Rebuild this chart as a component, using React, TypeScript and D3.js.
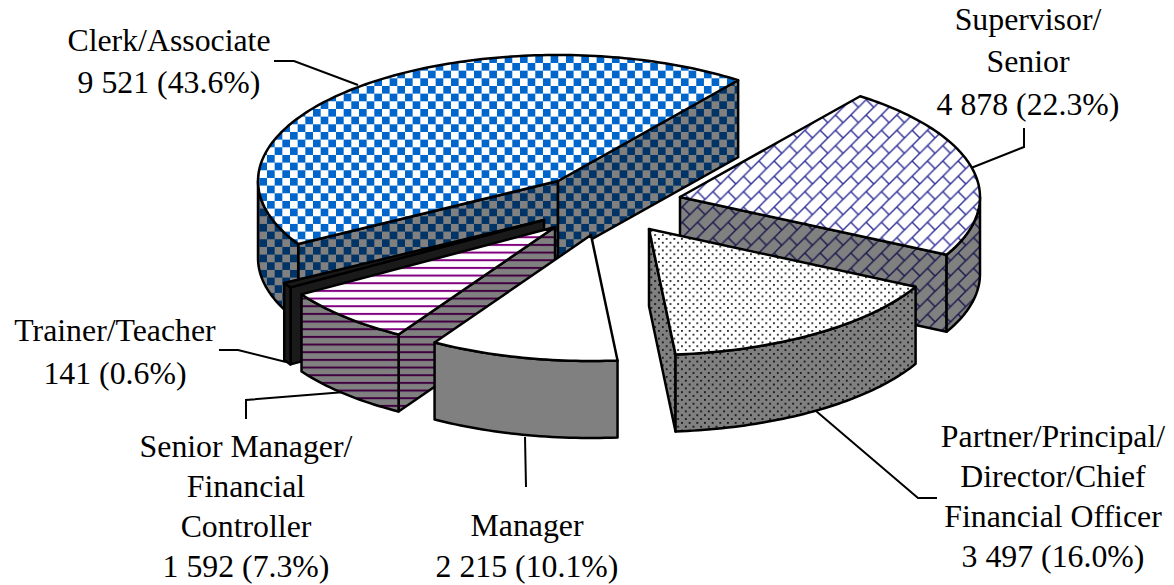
import React from "react";
import * as d3 from "d3";

// Headcount by job level
const categories = ["Supervisor/Senior", "Partner/Principal", "Manager", "Senior Manager", "Trainer/Teacher", "Clerk/Associate"];
const headcount = [4878, 3497, 2215, 1592, 141, 9521];

const WIDTH = 1174;
const HEIGHT = 585;
const RX = 300;
const RY = 126;
const DEPTH = 77;
const FIRST_ANGLE = (36.9 * Math.PI) / 180;
const CELL = 15.33;

// Exploded wedge tips, in category order
const tipX = [680, 649, 591, 555, 544, 558];
const tipY = [197, 229, 235, 227, 220, 181];

// Back-to-front painting sequence, indexes into categories
const paintOrder = [5, 4, 3, 2, 0, 1];

const topFill = ["url(#brickTop)", "url(#dotTop)", "#ffffff", "url(#lineTop)", "#1a1a1a", "url(#checkTop)"];
const wallFill = ["url(#brickWall)", "url(#dotWall)", "#808080", "url(#lineWall)", "#1a1a1a", "url(#checkWall)"];

const labelX = [1028, 1053, 527, 246, 115, 169];
const labelLines = [
  [["Supervisor/", 30], ["Senior", 72], ["4 878 (22.3%)", 115]],
  [["Partner/Principal/", 447], ["Director/Chief", 487], ["Financial Officer", 527], ["3 497 (16.0%)", 567]],
  [["Manager", 536], ["2 215 (10.1%)", 577]],
  [["Senior Manager/", 457], ["Financial", 497], ["Controller", 537], ["1 592 (7.3%)", 577]],
  [["Trainer/Teacher", 341], ["141 (0.6%)", 384]],
  [["Clerk/Associate", 51], ["9 521 (43.6%)", 93]],
] as [string, number][][];

const leaders: [number, number][][] = [
  [[971, 168], [1024, 147], [1024, 128]],
  [[816, 411], [918, 498], [937, 498]],
  [[525, 437], [526, 487]],
  [[246, 419], [246, 400], [345, 392]],
  [[219, 350], [238, 350], [286, 362]],
  [[274, 61], [294, 61], [358, 85]],
];

const arcs = d3
  .pie<number>()
  .sort(null)
  .startAngle(FIRST_ANGLE)
  .endAngle(FIRST_ANGLE + 2 * Math.PI)(headcount);

const outline = d3.line().curve(d3.curveLinear);

function rimPoint(i: number, theta: number, drop = 0): [number, number] {
  return [tipX[i] + RX * Math.sin(theta), tipY[i] - RY * Math.cos(theta) + drop];
}

function rimPoints(i: number, from: number, to: number, drop = 0) {
  const steps = Math.max(2, Math.ceil(Math.abs(to - from) / 0.02));
  const angle = d3.scaleLinear().domain([0, steps]).range([from, to]);
  return d3.range(steps + 1).map((k) => rimPoint(i, angle(k), drop));
}

function Wedge({ i }: { i: number }) {
  const { startAngle: s, endAngle: e } = arcs[i];
  const tip: [number, number] = [tipX[i], tipY[i]];
  const tipLow: [number, number] = [tipX[i], tipY[i] + DEPTH];
  const sideStroke = { stroke: "#000", strokeWidth: 2.5, strokeLinejoin: "round" as const };
  const sides: string[] = [];
  if (Math.sin(s) < 0) sides.push(outline([tip, rimPoint(i, s), rimPoint(i, s, DEPTH), tipLow])! + "Z");
  if (Math.sin(e) > 0) sides.push(outline([tip, rimPoint(i, e), rimPoint(i, e, DEPTH), tipLow])! + "Z");
  // Only the stretch of rim facing the viewer gets an outer wall
  const from = Math.max(s, Math.PI / 2);
  const to = Math.min(e, (3 * Math.PI) / 2);
  const outer =
    to > from
      ? outline([...rimPoints(i, from, to), ...rimPoints(i, to, from, DEPTH)])! + "Z"
      : null;
  const top = outline([tip, ...rimPoints(i, s, e)])! + "Z";
  return (
    <g>
      {sides.map((d, k) => (
        <path key={k} d={d} fill={wallFill[i]} {...sideStroke} />
      ))}
      {outer && <path d={outer} fill={wallFill[i]} {...sideStroke} />}
      <path d={top} fill={topFill[i]} {...sideStroke} />
    </g>
  );
}

function Checker({ id, bg, fg }: { id: string; bg: string; fg: string }) {
  return (
    <pattern id={id} x={6.4} y={1.65} width={CELL} height={CELL} patternUnits="userSpaceOnUse">
      <rect width={CELL} height={CELL} fill={bg} />
      <rect width={CELL / 2} height={CELL / 2} fill={fg} />
      <rect x={CELL / 2} y={CELL / 2} width={CELL / 2} height={CELL / 2} fill={fg} />
    </pattern>
  );
}

function Brick({ id, bg, fg }: { id: string; bg: string; fg: string }) {
  return (
    <pattern id={id} width={CELL} height={CELL} patternUnits="userSpaceOnUse">
      <rect width={CELL} height={CELL} fill={bg} />
      <g stroke={fg} strokeWidth={1.5} fill="none">
        <path d={`M-1 ${CELL + 1}L${CELL + 1} -1`} />
        <path d={`M-1 1L1 -1`} />
        <path d={`M${CELL - 1} ${CELL + 1}L${CELL + 1} ${CELL - 1}`} />
        <path d={`M${CELL / 2} ${CELL / 2}L${CELL} ${CELL}`} />
      </g>
    </pattern>
  );
}

function Dots({ id, bg, fg }: { id: string; bg: string; fg: string }) {
  const t = CELL / 2;
  return (
    <pattern id={id} x={2.7} y={4.2} width={t} height={t} patternUnits="userSpaceOnUse">
      <rect width={t} height={t} fill={bg} />
      <rect x={0} y={0} width={1.8} height={1.8} fill={fg} />
      <rect x={t / 2} y={t / 2} width={1.8} height={1.8} fill={fg} />
    </pattern>
  );
}

function Rules({ id, bg, fg }: { id: string; bg: string; fg: string }) {
  const t = CELL / 2;
  return (
    <pattern id={id} y={6.3} width={t} height={t} patternUnits="userSpaceOnUse">
      <rect width={t} height={t} fill={bg} />
      <rect y={0} width={t} height={2} fill={fg} />
    </pattern>
  );
}

export default function App() {
  return (
    <svg
      width={WIDTH}
      height={HEIGHT}
      viewBox={`0 0 ${WIDTH} ${HEIGHT}`}
      style={{ position: "fixed", left: 0, top: 0, display: "block", background: "#fff" }}
    >
      <defs>
        <Checker id="checkTop" bg="#ffffff" fg="#0066cc" />
        <Checker id="checkWall" bg="#808080" fg="#003366" />
        <Brick id="brickTop" bg="#ffffff" fg="#333399" />
        <Brick id="brickWall" bg="#808080" fg="#1a1a4d" />
        <Dots id="dotTop" bg="#ffffff" fg="#222222" />
        <Dots id="dotWall" bg="#808080" fg="#111111" />
        <Rules id="lineTop" bg="#ffffff" fg="#800080" />
        <Rules id="lineWall" bg="#808080" fg="#400040" />
      </defs>
      {leaders.map((pts, i) => (
        <path key={i} d={outline(pts)!} fill="none" stroke="#000" strokeWidth={2} />
      ))}
      {paintOrder.map((i) => (
        <Wedge key={categories[i]} i={i} />
      ))}
      <g fontFamily="'Liberation Serif', serif" fontSize={31.8} fill="#000" textAnchor="middle">
        {labelLines.map((lines, i) =>
          lines.map(([text, y]) => (
            <text key={text} x={labelX[i]} y={y}>
              {text}
            </text>
          ))
        )}
      </g>
    </svg>
  );
}
